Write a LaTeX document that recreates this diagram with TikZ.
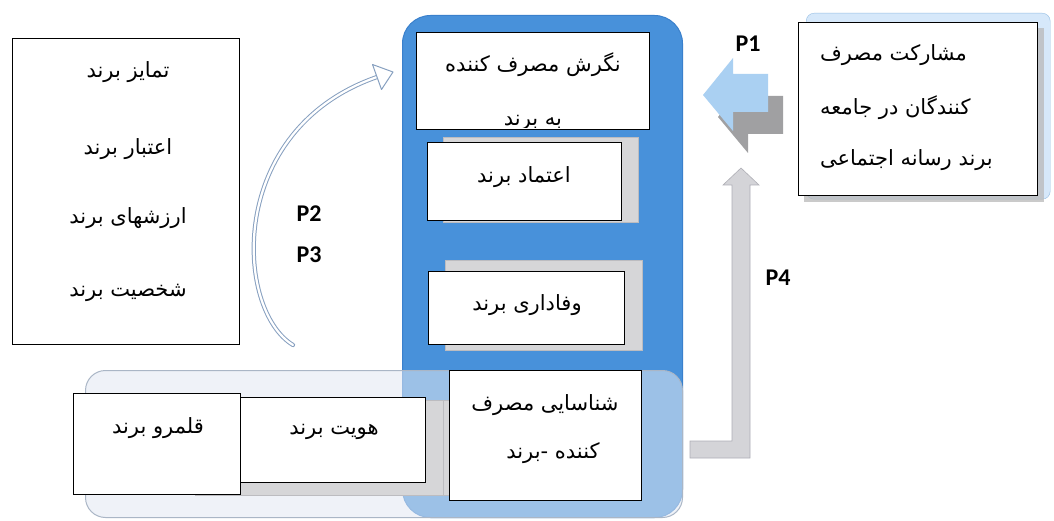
\documentclass[tikz,border=0pt]{standalone}
\usepackage{fontspec}
\newfontfamily\fafont[Script=Arabic]{DejaVu Sans}
\newfontfamily\plfont{Carlito}
\TeXXeTstate=1
\usetikzlibrary{arrows.meta}
\newcommand\rl[1]{\beginR #1\endR}
\definecolor{colblue}{RGB}{72,145,218}
\definecolor{colblueedge}{RGB}{58,128,204}
\definecolor{ovfill}{RGB}{226,233,243}
\definecolor{ovedge}{RGB}{170,182,198}
\definecolor{shfill}{RGB}{214,214,216}
\definecolor{shedge}{RGB}{188,188,192}
\definecolor{arblue}{RGB}{170,208,242}
\definecolor{argray}{RGB}{160,160,162}
\definecolor{p4fill}{RGB}{212,212,216}
\definecolor{p4edge}{RGB}{175,175,182}
\definecolor{curveedge}{RGB}{135,160,192}
\definecolor{rbback}{RGB}{214,232,250}
\definecolor{rbedge}{RGB}{150,190,228}
\begin{document}
\begin{tikzpicture}[x=1pt,y=-1pt,
  wbox/.style={draw=black, fill=white, line width=0.8pt, inner sep=0pt, anchor=north west},
  shbox/.style={draw=shedge, fill=shfill, line width=0.6pt, inner sep=0pt, anchor=north west},
  fatxt/.style={font=\fafont\fontsize{21}{24}\selectfont, inner sep=0pt},
  plab/.style={font=\plfont\bfseries\fontsize{24}{27}\selectfont, inner sep=0pt}]

\useasboundingbox[fill=white] (0,0) rectangle (1054,521);

% right box backdrop
\node[draw=rbedge, fill=rbback, rounded corners=8pt, minimum width=244pt, minimum height=186pt, anchor=north west, inner sep=0pt] (rback) at (806,13) {};
% blue column
\node[draw=colblueedge, fill=colblue, rounded corners=28pt, minimum width=280pt, minimum height=502pt, anchor=north west, inner sep=0pt, line width=1pt] (column) at (402,15) {};
% shadows in the column
\node[shbox, minimum width=195pt, minimum height=85pt] (sh1) at (443,137) {};
\node[shbox, minimum width=197pt, minimum height=90pt] (sh2) at (445,260) {};
% light overlay
\node[draw=ovedge, fill=ovfill, fill opacity=0.55, rounded corners=20pt, minimum width=597pt, minimum height=147pt, anchor=north west, inner sep=0pt, line width=1pt] (overlay) at (85,370) {};
\node[shbox, minimum width=250pt, minimum height=95pt] (sh3) at (195,400) {};
\node[shbox, minimum width=20pt, minimum height=95pt] (sh4) at (443,400) {};

% boxes
\node[wbox, minimum width=227pt, minimum height=306pt] (left) at (12,38) {};
\node[wbox, minimum width=233pt, minimum height=97pt] (att) at (416,32) {};
\node[wbox, minimum width=194pt, minimum height=78pt] (trust) at (427,142) {};
\node[wbox, minimum width=196pt, minimum height=73pt] (loyal) at (428,271) {};
\node[wbox, minimum width=192pt, minimum height=130pt] (ident) at (449,370) {};
\node[wbox, minimum width=185pt, minimum height=85pt] (bid) at (240,397) {};
\node[wbox, minimum width=167pt, minimum height=101pt] (terr) at (73,393) {};
\fill[gray!55, opacity=0.75] (804,28) rectangle (1044,202);
\node[wbox, minimum width=239pt, minimum height=173pt] (part) at (798,22) {};

% texts
\node[fatxt] (t1) at (128,72) {\rl{تمایز برند}};
\node[fatxt] (t2) at (128,149) {\rl{اعتبار برند}};
\node[fatxt] (t3) at (128,218) {\rl{ارزشهای برند}};
\node[fatxt] (t4) at (128,293) {\rl{شخصیت برند}};
\node[fatxt] (a1) at (533,65) {\rl{نگرش مصرف کننده}};
\begin{scope}
\clip (416,32) rectangle (649,128);
\node[fatxt] (a2) at (533,123) {\rl{به برند}};
\end{scope}
\node[fatxt] (tr) at (524,177) {\rl{اعتماد برند}};
\node[fatxt] (lo) at (527,305) {\rl{وفاداری برند}};
\node[fatxt] (i1) at (545,405) {\rl{شناسایی مصرف}};
\node[fatxt] (i2) at (553,453) {\rl{کننده -برند}};
\node[fatxt] (te) at (158,428) {\rl{قلمرو برند}};
\node[fatxt] (bi) at (334,432) {\rl{هویت برند}};
\node[fatxt, anchor=west] (r1) at (820,55) {\rl{مشارکت مصرف}};
\node[fatxt, anchor=west] (r2) at (820,108) {\rl{کنندگان در جامعه}};
\node[fatxt, anchor=west] (r3) at (820,160) {\rl{برند رسانه اجتماعی}};

% P1 arrow
\begin{scope}[shift={(15,22)}]
\fill[argray] (703,95) -- (733,58) -- (733,74) -- (768,74) -- (768,112) -- (733,112) -- (733,131) -- cycle;
\end{scope}
\fill[arblue] (703,95) -- (733,58) -- (733,74) -- (768,74) -- (768,112) -- (733,112) -- (733,131) -- cycle;
% P4 arrow
\filldraw[fill=p4fill, draw=p4edge, line width=0.6pt] (690,441) -- (732,441) -- (732,185) -- (723,185) -- (741,168) -- (759,185) -- (750,185) -- (750,458) -- (690,458) -- cycle;
% curved arrow
\coordinate (c0) at (293,345);
\coordinate (c1) at (377,77);
\coordinate (c2) at (393,72);
\draw[curveedge, line width=4.2pt, line cap=round] (c0) .. controls (235,310) and (225,130) .. (c1);
\draw[white, line width=2.2pt, line cap=round] (c0) .. controls (235,310) and (225,130) .. (c1);
\filldraw[fill=white, draw=curveedge, line width=1pt, line join=round] (372.5,64.5) -- (c2) -- (381.5,89.5) -- cycle;

% labels
\node[plab] (p1) at (748,44) {P1};
\node[plab] (p2) at (309,214) {P2};
\node[plab] (p3) at (309,255) {P3};
\node[plab] (p4) at (778,278) {P4};
\end{tikzpicture}
\end{document}
